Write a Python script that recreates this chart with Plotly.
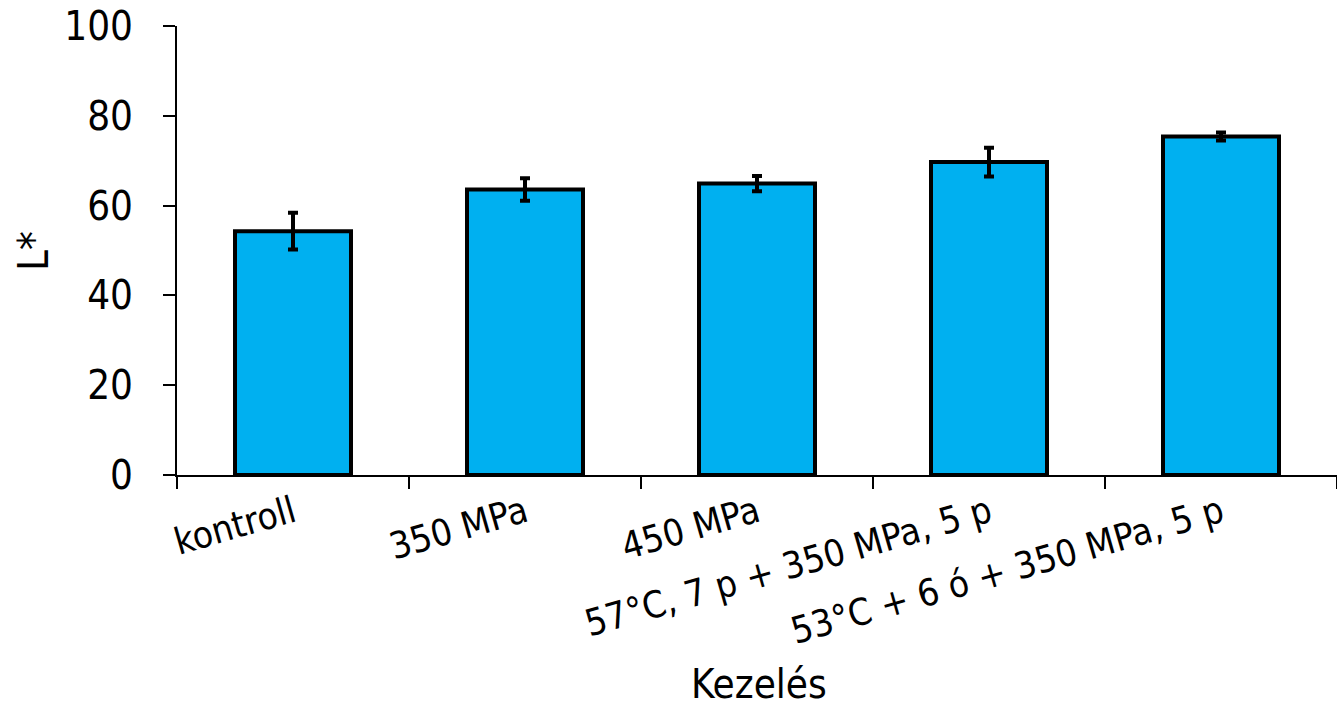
import plotly.graph_objects as go

# Kezelések és L* színmérési eredmények (átlag ± szórás)
categories = ["kontroll", "350 MPa", "450 MPa",
              "57°C, 7 p + 350 MPa, 5 p", "53°C + 6 ó + 350 MPa, 5 p"]
l_values = [54.3, 63.6, 64.9, 69.7, 75.4]
l_errors = [4.1, 2.5, 1.7, 3.2, 0.9]
y_ticks = [0, 20, 40, 60, 80, 100]

FONT = "DejaVu Sans Condensed, DejaVu Sans, sans-serif"

fig = go.Figure(
    go.Bar(
        x=categories,
        y=l_values,
        width=0.5,
        marker=dict(color="#00B0F0", line=dict(color="black", width=4)),
        error_y=dict(type="data", array=l_errors, visible=True,
                     color="black", thickness=4, width=5),
    )
)

fig.update_layout(
    width=1337, height=707,
    margin=dict(l=177, r=0, t=26, b=232),
    plot_bgcolor="white", paper_bgcolor="white",
    showlegend=False,
    font=dict(family=FONT, color="black"),
    xaxis=dict(
        showline=True, linecolor="black", linewidth=2,
        ticks="outside", tickson="boundaries", ticklen=12, tickwidth=2, tickcolor="black",
        tickangle=-16, tickfont=dict(size=37, family=FONT),
        showgrid=False, zeroline=False,
    ),
    yaxis=dict(
        range=[0, 100], tickvals=y_ticks,
        showline=True, linecolor="black", linewidth=2,
        ticks="outside", ticklen=12, tickwidth=2, tickcolor="black",
        tickfont=dict(size=40, family=FONT), ticklabelstandoff=22,
        showgrid=False, zeroline=False,
    ),
    annotations=[
        dict(text="Kezelés", showarrow=False, font=dict(size=40, family=FONT)),
        dict(text="L*", textangle=-90, showarrow=False, font=dict(size=42, family=FONT)),
    ],
)

# axis titles placed in pixel terms relative to the plot area (177..1337 x 26..475)
fig.layout.annotations[0].update(xref="paper", yref="paper",
                                 x=(759 - 177) / 1160, y=-(684 - 475) / 449,
                                 xanchor="center", yanchor="middle")
fig.layout.annotations[1].update(xref="paper", yref="paper",
                                 x=(33 - 177) / 1160, y=(475 - 251) / 449,
                                 xanchor="center", yanchor="middle")

fig.write_html("out.html")
